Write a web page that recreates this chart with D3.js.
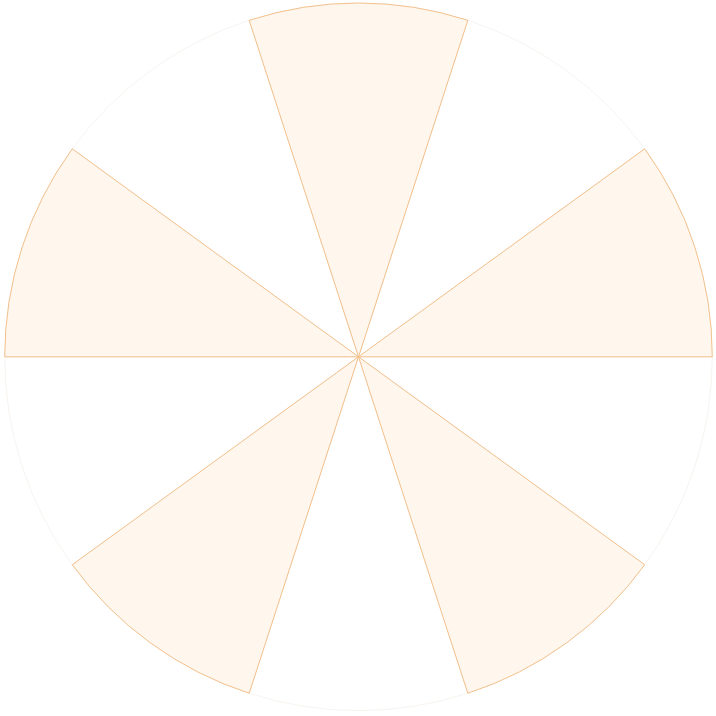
<!DOCTYPE html>
<html><head><meta charset="utf-8">
<script src="https://cdn.jsdelivr.net/npm/d3@7"></script>
<style>html,body{margin:0;padding:0;background:#fff;}svg{display:block;}</style>
</head><body>
<svg id="chart" width="716" height="716"></svg>
<script>
const categories = ["A","B","C","D","E","F","G","H","I","J"];
const values = [1,1,1,1,1,1,1,1,1,1];
const filled = [true,false,true,false,true,false,true,false,true,false];

const svg = d3.select("#chart");
const cx = 358.5, cy = 356.8, R = 353.8;
const g = svg.append("g").attr("transform", `translate(${cx},${cy})`);

const offset = -Math.PI / 10; // start at -18deg
const angle = d3.scaleBand().domain(categories).range([offset, offset + 2 * Math.PI]).padding(0);
const r = d3.scaleLinear().domain([0, d3.max(values)]).range([0, R]);

const arc = d3.arc()
  .innerRadius(0)
  .outerRadius(d => r(d.v))
  .startAngle(d => angle(d.c))
  .endAngle(d => angle(d.c) + angle.bandwidth());

const data = categories.map((c, i) => ({c, v: values[i], f: filled[i]}));

g.selectAll("path.empty").data(data.filter(d => !d.f)).join("path")
  .attr("class", "empty")
  .attr("d", arc)
  .attr("fill", "#ffffff")
  .attr("stroke", "#f8f4f0")
  .attr("stroke-width", 1);

g.selectAll("path.full").data(data.filter(d => d.f)).join("path")
  .attr("class", "full")
  .attr("d", arc)
  .attr("fill", "#fff6ed")
  .attr("stroke", "#f2c08c")
  .attr("stroke-width", 1);
</script>
</body></html>
